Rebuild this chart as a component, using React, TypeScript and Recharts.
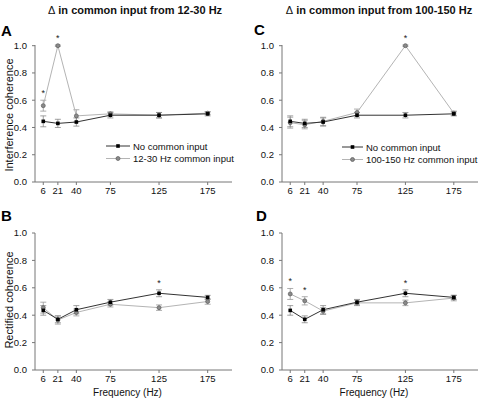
import {
  ComposedChart,
  Line,
  XAxis,
  YAxis,
  ErrorBar,
  ReferenceDot,
  Legend,
  Label,
} from 'recharts';

const FREQS = [6, 21, 40, 75, 125, 175];
const Y_TICKS = [0, 0.2, 0.4, 0.6, 0.8, 1.0];

// interference coherence
const INTERF_NONE = [0.445, 0.43, 0.44, 0.49, 0.49, 0.5];
const INTERF_NONE_ERR = [0.04, 0.03, 0.03, 0.02, 0.02, 0.015];
const INTERF_BETA = [0.56, 1.0, 0.485, 0.5, 0.49, 0.505];
const INTERF_BETA_ERR = [0.04, 0.005, 0.045, 0.015, 0.02, 0.01];
const INTERF_HIGH = [0.435, 0.42, 0.445, 0.51, 1.0, 0.505];
const INTERF_HIGH_ERR = [0.04, 0.03, 0.03, 0.025, 0.005, 0.015];

// rectified coherence
const RECT_NONE = [0.435, 0.37, 0.44, 0.495, 0.56, 0.53];
const RECT_NONE_ERR = [0.035, 0.025, 0.03, 0.02, 0.025, 0.015];
const RECT_BETA = [0.455, 0.365, 0.42, 0.48, 0.455, 0.5];
const RECT_BETA_ERR = [0.04, 0.03, 0.025, 0.02, 0.02, 0.02];
const RECT_HIGH = [0.555, 0.505, 0.43, 0.49, 0.49, 0.525];
const RECT_HIGH_ERR = [0.04, 0.03, 0.025, 0.02, 0.02, 0.02];

// frequencies marked as significant
const STARS_A = [6, 21];
const STARS_B = [125];
const STARS_C = [125];
const STARS_D = [6, 21, 125];

const FONT = '"Liberation Sans", Arial, sans-serif';
const AXIS = '#777';
const DARK_LINE = '#333';
const LIGHT_LINE = '#b4b4b4';

function Square(props: any) {
  const { cx, cy, index } = props;
  if (cx == null || cy == null) return <g key={index} />;
  return <rect key={index} x={cx - 1.8} y={cy - 1.8} width={3.6} height={3.6} fill="#000" />;
}

function Star(props: any) {
  return (
    <text x={props.cx} y={props.cy - 4} textAnchor="middle" fontSize={9} fill="#222" fontFamily={FONT}>
      *
    </text>
  );
}

interface PanelProps {
  none: number[];
  noneErr: number[];
  common: number[];
  commonErr: number[];
  stars: number[];
  width: number;
  height: number;
  margin: { top: number; right: number; left: number; bottom: number };
  yWidth: number;
  xHeight: number;
  xLabel?: boolean;
  legendName?: string;
  legendPos?: { left: number; top: number; len: number };
}

function Panel(p: PanelProps) {
  const data = FREQS.map((f, i) => ({
    f,
    none: p.none[i],
    noneErr: p.noneErr[i],
    common: p.common[i],
    commonErr: p.commonErr[i],
  }));

  const starTop = (f: number) => {
    const i = FREQS.indexOf(f);
    return Math.max(p.none[i] + p.noneErr[i], p.common[i] + p.commonErr[i]);
  };

  const legendContent = () => {
    const len = p.legendPos!.len;
    return (
      <svg width={150} height={26} style={{ overflow: 'visible' }}>
        <line x1={0} x2={len} y1={6} y2={6} stroke={DARK_LINE} />
        <rect x={len / 2 - 1.8} y={4.2} width={3.6} height={3.6} fill="#000" />
        <text x={len + 3} y={9.5} fontSize={9.5} fontFamily={FONT} fill="#111">No common input</text>
        <line x1={0} x2={len} y1={18.5} y2={18.5} stroke={LIGHT_LINE} />
        <circle cx={len / 2} cy={18.5} r={2} fill="#8a8a8a" stroke="#5a5a5a" strokeWidth={0.7} />
        <text x={len + 3} y={22} fontSize={9.5} fontFamily={FONT} fill="#111">{p.legendName}</text>
      </svg>
    );
  };

  return (
    <ComposedChart width={p.width} height={p.height} data={data} margin={p.margin}>
      <XAxis
        type="number"
        dataKey="f"
        domain={[-2.5, 200]}
        ticks={FREQS}
        interval={0}
        allowDataOverflow
        height={p.xHeight}
        tickSize={3}
        tickMargin={2}
        stroke={AXIS}
        tick={{ fontSize: 9.5, fill: '#111', fontFamily: FONT }}
      >
        {p.xLabel && (
          <Label
            value="Frequency (Hz)"
            position="insideBottom"
            offset={8}
            dx={-6}
            style={{ fontSize: 10, fill: '#111', fontFamily: FONT }}
          />
        )}
      </XAxis>
      <YAxis
        type="number"
        domain={[0, 1]}
        ticks={Y_TICKS}
        width={p.yWidth}
        tickSize={3}
        tickMargin={5}
        stroke={AXIS}
        tickFormatter={(v: number) => v.toFixed(1)}
        tick={{ fontSize: 9.5, fill: '#111', fontFamily: FONT }}
      />
      <Line
        dataKey="common"
        stroke={LIGHT_LINE}
        strokeWidth={1}
        dot={{ r: 2, fill: '#8a8a8a', stroke: '#5a5a5a', strokeWidth: 0.7 }}
        isAnimationActive={false}
      >
        <ErrorBar dataKey="commonErr" width={3} stroke="#999" strokeWidth={0.8} direction="y" />
      </Line>
      <Line
        dataKey="none"
        stroke={DARK_LINE}
        strokeWidth={1}
        dot={<Square />}
        isAnimationActive={false}
      >
        <ErrorBar dataKey="noneErr" width={3} stroke="#888" strokeWidth={0.8} direction="y" />
      </Line>
      {p.stars.map((f) => (
        <ReferenceDot key={f} x={f} y={starTop(f)} r={0} shape={<Star />} />
      ))}
      {p.legendPos && (
        <Legend
          layout="horizontal"
          verticalAlign="middle"
          align="center"
          content={legendContent}
          wrapperStyle={{ left: p.legendPos.left, top: p.legendPos.top, width: 150, height: 26 }}
        />
      )}
    </ComposedChart>
  );
}

const abs = (left: number, top: number): React.CSSProperties => ({ position: 'absolute', left, top });

export default function App() {
  const titleStyle: React.CSSProperties = { fontSize: 11, fontWeight: 'bold', whiteSpace: 'nowrap', color: '#111' };
  const letterStyle: React.CSSProperties = { fontSize: 15, fontWeight: 'bold', color: '#000', lineHeight: '15px' };
  const yLabelStyle: React.CSSProperties = {
    fontSize: 11,
    color: '#111',
    whiteSpace: 'nowrap',
    transform: 'translate(-50%, -50%) rotate(-90deg)',
    lineHeight: '12px',
  };

  return (
    <div style={{ position: 'relative', width: 481, height: 404, fontFamily: FONT, background: '#fff', overflow: 'hidden' }}>
      <style>{'body{margin:0}'}</style>

      <div style={{ ...abs(135, 4), ...titleStyle, transform: 'translateX(-50%)' }}>
        <span style={{ fontWeight: 'normal' }}>Δ</span> in common input from 12-30 Hz
      </div>
      <div style={{ ...abs(379, 4), ...titleStyle, transform: 'translateX(-50%)' }}>
        <span style={{ fontWeight: 'normal' }}>Δ</span> in common input from 100-150 Hz
      </div>

      <div style={{ ...abs(1, 23), ...letterStyle }}>A</div>
      <div style={{ ...abs(1, 208), ...letterStyle }}>B</div>
      <div style={{ ...abs(254, 22), ...letterStyle }}>C</div>
      <div style={{ ...abs(256, 208), ...letterStyle }}>D</div>

      <div style={{ ...abs(9, 115), ...yLabelStyle }}>Interference coherence</div>
      <div style={{ ...abs(9, 300), ...yLabelStyle }}>Rectified coherence</div>

      <div style={abs(0, 0)}>
        <Panel
          none={INTERF_NONE}
          noneErr={INTERF_NONE_ERR}
          common={INTERF_BETA}
          commonErr={INTERF_BETA_ERR}
          stars={STARS_A}
          width={240}
          height={200}
          margin={{ top: 45, right: 8, left: 0, bottom: 0 }}
          yWidth={35}
          xHeight={18}
          legendName="12-30 Hz common input"
          legendPos={{ left: 106, top: 140, len: 24 }}
        />
      </div>
      <div style={abs(240, 0)}>
        <Panel
          none={INTERF_NONE}
          noneErr={INTERF_NONE_ERR}
          common={INTERF_HIGH}
          commonErr={INTERF_HIGH_ERR}
          stars={STARS_C}
          width={241}
          height={200}
          margin={{ top: 45, right: 3, left: 0, bottom: 0 }}
          yWidth={42}
          xHeight={18}
          legendName="100-150 Hz common input"
          legendPos={{ left: 102, top: 141, len: 21 }}
        />
      </div>
      <div style={abs(0, 200)}>
        <Panel
          none={RECT_NONE}
          noneErr={RECT_NONE_ERR}
          common={RECT_BETA}
          commonErr={RECT_BETA_ERR}
          stars={STARS_B}
          width={240}
          height={204}
          margin={{ top: 33, right: 8, left: 0, bottom: 0 }}
          yWidth={35}
          xHeight={34}
          xLabel
        />
      </div>
      <div style={abs(240, 200)}>
        <Panel
          none={RECT_NONE}
          noneErr={RECT_NONE_ERR}
          common={RECT_HIGH}
          commonErr={RECT_HIGH_ERR}
          stars={STARS_D}
          width={241}
          height={204}
          margin={{ top: 33, right: 3, left: 0, bottom: 0 }}
          yWidth={42}
          xHeight={34}
          xLabel
        />
      </div>
    </div>
  );
}
